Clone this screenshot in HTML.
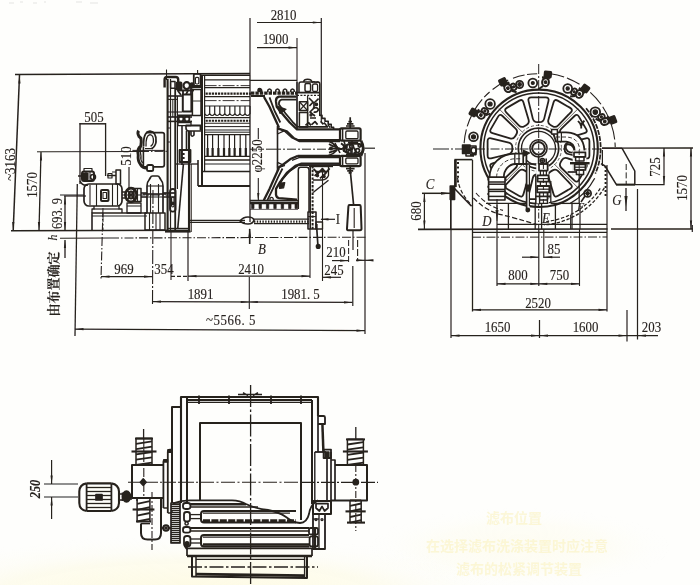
<!DOCTYPE html>
<html><head><meta charset="utf-8"><title>drawing</title>
<style>
html,body{margin:0;padding:0;background:#fefefc;}
body{width:700px;height:585px;overflow:hidden;position:relative;}
svg{position:absolute;left:0;top:0;display:block;}
svg *{vector-effect:none;}
.g{fill:none;stroke:#26211e;stroke-width:1;stroke-linecap:butt;stroke-linejoin:round;}
.t{font-family:'Liberation Serif',serif;fill:#26211e;stroke:#26211e;stroke-width:0.12;text-anchor:middle;}
.a{fill:#26211e;stroke:none;}
</style></head><body>
<svg width="700" height="585" viewBox="0 0 700 585">
<defs>
<filter id="sc" x="0" y="0" width="100%" height="100%" filterUnits="userSpaceOnUse"><feGaussianBlur stdDeviation="0.38"/></filter>
<linearGradient id="bt" x1="0" y1="0" x2="0" y2="1"><stop offset="0" stop-color="#fbf6dc" stop-opacity="0"/><stop offset="1" stop-color="#fbf6dc" stop-opacity="0.6"/></linearGradient>
<radialGradient id="yl" cx="0.5" cy="0.5" r="0.5"><stop offset="0" stop-color="#fdf8d8" stop-opacity="0.95"/><stop offset="0.6" stop-color="#fdfadf" stop-opacity="0.6"/><stop offset="1" stop-color="#fefefc" stop-opacity="0"/></radialGradient>
</defs>
<g class="g" filter="url(#sc)">
<ellipse cx="520" cy="548" rx="150" ry="40" fill="url(#yl)" stroke="none" opacity="0.3"/>
<ellipse cx="190" cy="598" rx="330" ry="62" fill="url(#yl)" stroke="none" opacity="0.8"/>
<g fill="#f9f0b6" stroke="none" opacity="0.5" font-family="'Liberation Sans','Noto Sans CJK SC',sans-serif" font-size="14" font-weight="bold"><text x="486" y="523">滤布位置</text><text x="426" y="551">在选择滤布洗涤装置时应注意</text><text x="456" y="574">滤布的松紧调节装置</text></g>
<g stroke="#dcdcd8" stroke-width="1.2" opacity="0.7"><path d="M9 3h5M20 2h3M33 3h4M44 2h2M76 2h6M90 3h8"/></g>
<!-- side view dimensions -->
<line x1="15" y1="74.6" x2="250" y2="73.4" stroke-width="1.5"/>
<line x1="19.5" y1="75" x2="13.2" y2="230.5" stroke-width="1.5"/>
<polygon class="a" points="19.5,75 20.6,83.5 18.4,83.5"/>
<polygon class="a" points="13.2,230.5 12.1,222 14.3,222"/>
<text class="t" transform="translate(10 164.5) rotate(-90) scale(0.9 1)" x="0" y="4.7" font-size="14.3">~3163</text>
<line x1="11" y1="230.8" x2="189" y2="230.3" stroke-width="1.6"/>
<line x1="37" y1="151.8" x2="140" y2="151.5" stroke-width="1"/>
<line x1="140" y1="151.5" x2="168" y2="151.3" stroke-width="1" stroke-dasharray="9 2 1.5 2"/>
<line x1="41" y1="152" x2="39" y2="230.5" stroke-width="1.3"/>
<polygon class="a" points="41,152 42.1,160.5 39.9,160.5"/>
<polygon class="a" points="39,230.5 37.9,222 40.1,222"/>
<text class="t" transform="translate(32 185) rotate(-90) scale(0.9 1)" x="0" y="4.7" font-size="14.3">1570</text>
<line x1="80" y1="123" x2="80" y2="184" stroke-width="1.3"/>
<line x1="105.6" y1="123" x2="105.6" y2="176" stroke-width="1.3"/>
<line x1="79.5" y1="123.8" x2="106" y2="123.8" stroke-width="1.5"/>
<text class="t" transform="translate(94 117.5) scale(0.9 1)" x="0" y="4.7" font-size="14.3">505</text>
<text class="t" transform="translate(126.5 156) rotate(-90) scale(0.9 1)" x="0" y="4.7" font-size="14.3">510</text>
<line x1="64" y1="196" x2="86" y2="196" stroke-width="1.2"/>
<line x1="65" y1="196" x2="65" y2="230.5" stroke-width="1.3"/>
<polygon class="a" points="65,196 66.1,204.5 63.9,204.5"/>
<polygon class="a" points="65,230.5 63.9,222 66.1,222"/>
<text class="t" transform="translate(57.5 213.5) rotate(-90) scale(0.9 1)" x="0" y="4.5" font-size="13.8">693. 9</text>
<text class="t" transform="translate(52.5 237.5) rotate(-90) scale(0.9 1)" x="0" y="4.4" font-size="13.2" font-style="italic">h</text>
<line x1="60" y1="238.2" x2="110" y2="238" stroke-width="1.1"/>
<line x1="110" y1="238" x2="366" y2="237.2" stroke-width="1.1" stroke-dasharray="9 2 1.5 2"/>
<line x1="65" y1="240" x2="65" y2="258" stroke-width="1.3"/>
<polygon class="a" points="65,239.5 66.1,248 63.9,248"/>
<text class="t" transform="translate(54 284) rotate(-90)" x="0" y="4.3" font-size="13" font-weight="bold" style="font-family:'Liberation Serif','Noto Serif CJK SC',serif">由布置确定</text>
<line x1="77.3" y1="184" x2="75" y2="336" stroke-width="1.3"/>
<line x1="103" y1="208" x2="101" y2="279" stroke-width="1.1" stroke-dasharray="9 2 1.5 2"/>
<line x1="101" y1="276.6" x2="152.5" y2="276.6" stroke-width="1.2"/>
<polygon class="a" points="101,276.6 109.5,275.5 109.5,277.7"/>
<polygon class="a" points="152.5,276.6 144,277.7 144,275.5"/>
<text class="t" transform="translate(124 269) scale(0.9 1)" x="0" y="4.7" font-size="14.3">969</text>
<line x1="153" y1="190" x2="152.5" y2="304" stroke-width="1.1" stroke-dasharray="14 2 2 2"/>
<line x1="171" y1="231" x2="171" y2="280" stroke-width="1.1"/>
<line x1="188" y1="231" x2="188" y2="281" stroke-width="1.2"/>
<text class="t" transform="translate(164 269) scale(0.9 1)" x="0" y="4.7" font-size="14.3">354</text>
<line x1="171" y1="276.4" x2="188" y2="276.4" stroke-width="1.1" stroke-dasharray="4 2"/>
<line x1="188" y1="276.2" x2="310" y2="276.2" stroke-width="1.2"/>
<polygon class="a" points="188,276.2 196.5,275.1 196.5,277.3"/>
<polygon class="a" points="310,276.2 301.5,277.3 301.5,275.1"/>
<text class="t" transform="translate(251 269.5) scale(0.9 1)" x="0" y="4.7" font-size="14.3">2410</text>
<line x1="310" y1="229" x2="310" y2="278" stroke-width="1.1"/>
<line x1="249.3" y1="277" x2="249.3" y2="309" stroke-width="1.1"/>
<line x1="152.5" y1="301.6" x2="352.5" y2="302.4" stroke-width="1.2"/>
<polygon class="a" points="152.5,301.6 161,300.5 161,302.7"/>
<polygon class="a" points="249.3,302 240.8,303.1 240.8,300.9"/>
<polygon class="a" points="249.3,302 257.8,300.9 257.8,303.1"/>
<polygon class="a" points="352.5,302.4 344,303.5 344,301.3"/>
<text class="t" transform="translate(200.5 294) scale(0.9 1)" x="0" y="4.7" font-size="14.3">1891</text>
<text class="t" transform="translate(300.5 294.5) scale(0.9 1)" x="0" y="4.7" font-size="14.3">1981. 5</text>
<line x1="352.8" y1="266" x2="352.8" y2="306" stroke-width="1.2"/>
<line x1="75" y1="329.2" x2="365" y2="330.6" stroke-width="1.3"/>
<polygon class="a" points="75,329.2 83.5,328.1 83.5,330.3"/>
<polygon class="a" points="365,330.6 356.5,331.7 356.5,329.5"/>
<text class="t" transform="translate(231 320.5) scale(0.9 1)" x="0" y="4.7" font-size="14.3" letter-spacing="0.6">~5566. 5</text>
<line x1="365" y1="153" x2="365" y2="334" stroke-width="1.2"/>
<line x1="322.5" y1="170" x2="322.5" y2="281" stroke-width="1.1"/>
<line x1="348.6" y1="240" x2="348.6" y2="263" stroke-width="1" stroke-dasharray="6 2"/>
<line x1="353" y1="230.4" x2="353" y2="250" stroke-width="1.2"/>
<line x1="357.6" y1="240" x2="357.6" y2="260" stroke-width="1.1" stroke-dasharray="7 2"/>
<line x1="332" y1="260.6" x2="348.6" y2="260.6" stroke-width="1.2"/>
<polygon class="a" points="348.6,260.6 340.1,261.7 340.1,259.5"/>
<text class="t" transform="translate(336 252) scale(0.9 1)" x="0" y="4.7" font-size="14.3">210</text>
<text class="t" transform="translate(334 270) scale(0.9 1)" x="0" y="4.7" font-size="14.3">245</text>
<line x1="322.5" y1="277.3" x2="341" y2="277.3" stroke-width="1.2"/>
<polygon class="a" points="322.5,277.3 331,276.2 331,278.4"/>
<line x1="356" y1="260.3" x2="373" y2="260.3" stroke-width="1.2"/>
<polygon class="a" points="365,260.3 356.5,261.4 356.5,259.2"/>
<polygon class="a" points="365,260.3 373.5,259.2 373.5,261.4"/>
<line x1="250" y1="18" x2="250" y2="75" stroke-width="1.2"/>
<line x1="321.3" y1="18" x2="321.3" y2="122" stroke-width="1.2"/>
<line x1="297" y1="38" x2="297" y2="82" stroke-width="1.1"/>
<line x1="257" y1="22.5" x2="321.3" y2="22.5" stroke-width="1.2"/>
<polygon class="a" points="321.3,22.5 312.8,23.6 312.8,21.4"/>
<text class="t" transform="translate(283.5 15) scale(0.9 1)" x="0" y="4.7" font-size="14.3">2810</text>
<line x1="257" y1="47.6" x2="297" y2="47.6" stroke-width="1.2"/>
<polygon class="a" points="297,47.6 288.5,48.7 288.5,46.5"/>
<text class="t" transform="translate(275.5 39) scale(0.9 1)" x="0" y="4.7" font-size="14.3">1900</text>
<line x1="258.3" y1="128" x2="258.3" y2="139" stroke-width="1.1"/>
<text class="t" transform="translate(257.5 156) rotate(-90) scale(0.9 1)" x="0" y="4.7" font-size="14.3">φ2250</text>
<line x1="258.3" y1="178" x2="258.3" y2="201" stroke-width="1.1"/>
<polygon class="a" points="258.3,201.5 257.2,193 259.4,193"/>
<text class="t" transform="translate(262 249) scale(0.9 1)" x="0" y="4.7" font-size="14.3" font-style="italic">B</text>
<line x1="249.7" y1="229" x2="249.7" y2="244" stroke-width="1.6"/>
<polygon class="a" points="249.7,228 251.2,238 248.2,238"/>
<text class="t" transform="translate(338 219) scale(0.9 1)" x="0" y="4.7" font-size="14.3">I</text>
<line x1="321" y1="219.3" x2="335" y2="219.3" stroke-width="1.2"/>
<polygon class="a" points="320,219.3 328.5,218.2 328.5,220.4"/>
<!-- end view dimensions -->
<line x1="418" y1="229.3" x2="607.5" y2="229" stroke-width="1.7"/>
<line x1="611" y1="229" x2="693" y2="229" stroke-width="1.6"/>
<line x1="692.3" y1="225" x2="692.3" y2="232" stroke-width="1.2"/>
<line x1="472" y1="237.2" x2="607" y2="237" stroke-width="1" stroke-dasharray="9 2 1.5 2"/>
<text class="t" transform="translate(430 184) scale(0.9 1)" x="0" y="4.7" font-size="14.3" font-style="italic">C</text>
<line x1="422" y1="193.3" x2="450" y2="193.3" stroke-width="1.5"/>
<polygon class="a" points="450,193.3 441,194.7 441,191.9"/>
<line x1="424.4" y1="193.5" x2="424.4" y2="229" stroke-width="1.2"/>
<polygon class="a" points="424.4,193.5 425.5,202 423.3,202"/>
<polygon class="a" points="424.4,229 423.3,220.5 425.5,220.5"/>
<text class="t" transform="translate(416 211) rotate(-90) scale(0.9 1)" x="0" y="4.7" font-size="14.3">680</text>
<text class="t" transform="translate(487 221) scale(0.9 1)" x="0" y="4.7" font-size="14.3" font-style="italic">D</text>
<line x1="497" y1="205" x2="497" y2="221" stroke-width="1.5"/>
<polygon class="a" points="497,220 495.5,210 498.5,210"/>
<text class="t" transform="translate(546 218) scale(0.9 1)" x="0" y="4.7" font-size="14.3" font-style="italic">E</text>
<text class="t" transform="translate(580.5 206.5) scale(0.9 1)" x="0" y="4.4" font-size="13.2" font-style="italic">F</text>
<text class="t" transform="translate(617 200) scale(0.9 1)" x="0" y="4.7" font-size="14.3" font-style="italic">G</text>
<line x1="626" y1="188" x2="626" y2="211" stroke-width="1.3"/>
<polygon class="a" points="626,207 624.4,196 627.6,196"/>
<line x1="602" y1="148.2" x2="693" y2="148" stroke-width="1.3"/>
<line x1="664" y1="148" x2="664" y2="184.6" stroke-width="1.2"/>
<polygon class="a" points="664,148 665.1,156.5 662.9,156.5"/>
<polygon class="a" points="664,184.6 662.9,176.1 665.1,176.1"/>
<line x1="616" y1="184.6" x2="664.5" y2="184.6" stroke-width="1.2"/>
<text class="t" transform="translate(655.5 167) rotate(-90) scale(0.9 1)" x="0" y="4.7" font-size="14.3">725</text>
<line x1="691" y1="148" x2="691" y2="229" stroke-width="1.3"/>
<polygon class="a" points="691,148 692.1,156.5 689.9,156.5"/>
<polygon class="a" points="691,229 689.9,220.5 692.1,220.5"/>
<text class="t" transform="translate(682 188) rotate(-90) scale(0.9 1)" x="0" y="4.7" font-size="14.3">1570</text>
<line x1="451" y1="200" x2="451" y2="338" stroke-width="1.2"/>
<line x1="472.5" y1="160" x2="472.5" y2="311.5" stroke-width="1.3"/>
<line x1="497" y1="221" x2="497" y2="286" stroke-width="1.2"/>
<line x1="538.8" y1="229" x2="538.8" y2="286" stroke-width="1.2"/>
<line x1="543.8" y1="229" x2="543.8" y2="258" stroke-width="1.1"/>
<line x1="579.5" y1="229" x2="579.5" y2="286" stroke-width="1.1"/>
<line x1="607" y1="165" x2="607" y2="311.5" stroke-width="1.2"/>
<line x1="637.5" y1="189" x2="637.5" y2="339.5" stroke-width="1.2"/>
<line x1="627" y1="310" x2="627" y2="341.5" stroke-width="1.2"/>
<line x1="522" y1="257.2" x2="538.8" y2="257.2" stroke-width="1.2"/>
<polygon class="a" points="538.8,257.2 530.3,258.3 530.3,256.1"/>
<line x1="543.8" y1="257.2" x2="560" y2="257.2" stroke-width="1.2"/>
<polygon class="a" points="543.8,257.2 552.3,256.1 552.3,258.3"/>
<text class="t" transform="translate(554 249.5) scale(0.9 1)" x="0" y="4.7" font-size="14.3">85</text>
<line x1="497" y1="283.8" x2="579.5" y2="283.8" stroke-width="1.2"/>
<polygon class="a" points="497,283.8 505.5,282.7 505.5,284.9"/>
<polygon class="a" points="538.8,283.8 530.3,284.9 530.3,282.7"/>
<polygon class="a" points="538.8,283.8 547.3,282.7 547.3,284.9"/>
<polygon class="a" points="579.5,283.8 571,284.9 571,282.7"/>
<text class="t" transform="translate(518 275) scale(0.9 1)" x="0" y="4.7" font-size="14.3">800</text>
<text class="t" transform="translate(559.5 275) scale(0.9 1)" x="0" y="4.7" font-size="14.3">750</text>
<line x1="472.5" y1="309.8" x2="607" y2="309.8" stroke-width="1.2"/>
<polygon class="a" points="472.5,309.8 481,308.7 481,310.9"/>
<polygon class="a" points="607,309.8 598.5,310.9 598.5,308.7"/>
<text class="t" transform="translate(538 303) scale(0.9 1)" x="0" y="4.7" font-size="14.3">2520</text>
<line x1="451" y1="335.6" x2="658" y2="335.6" stroke-width="1.2"/>
<polygon class="a" points="451,335.6 459.5,334.5 459.5,336.7"/>
<polygon class="a" points="539.5,335.6 531,336.7 531,334.5"/>
<polygon class="a" points="539.5,335.6 548,334.5 548,336.7"/>
<polygon class="a" points="627,335.6 618.5,336.7 618.5,334.5"/>
<polygon class="a" points="637.5,335.6 646,334.5 646,336.7"/>
<line x1="539.5" y1="320" x2="539.5" y2="338" stroke-width="1.2"/>
<text class="t" transform="translate(497.5 327.5) scale(0.9 1)" x="0" y="4.7" font-size="14.3">1650</text>
<text class="t" transform="translate(585.5 327.5) scale(0.9 1)" x="0" y="4.7" font-size="14.3">1600</text>
<text class="t" transform="translate(651.5 327.5) scale(0.9 1)" x="0" y="4.7" font-size="14.3">203</text>
<!-- plan view dimension -->
<line x1="51.6" y1="460" x2="51.6" y2="484" stroke-width="1.2"/>
<polygon class="a" points="51.6,484 50.5,475.5 52.7,475.5"/>
<line x1="51.6" y1="497" x2="51.6" y2="519" stroke-width="1.2"/>
<polygon class="a" points="51.6,497 52.7,505.5 50.5,505.5"/>
<line x1="44" y1="484" x2="78" y2="484" stroke-width="1.1"/>
<line x1="44" y1="497" x2="78" y2="497" stroke-width="1.1"/>
<text class="t" transform="translate(35 489) rotate(-90) scale(0.9 1)" x="0" y="4.5" font-size="13.8" font-style="italic" font-weight="bold">250</text>
<!-- motor / gearbox group -->
<line x1="129" y1="167" x2="129" y2="188.6" stroke-width="1.2"/>
<rect x="82" y="171.5" width="12" height="9.5" rx="2" stroke-width="2"/>
<rect x="83.4" y="173" width="4.6" height="6.6" stroke-width="1.2" fill="#26211e"/>
<line x1="86" y1="171.5" x2="86" y2="181" stroke-width="1"/>
<line x1="90" y1="171.5" x2="90" y2="181" stroke-width="1"/>
<rect x="84" y="168.5" width="8" height="3" stroke-width="1.2"/>
<line x1="78" y1="176" x2="84" y2="176" stroke-width="1.5"/>
<circle cx="93" cy="177" r="2.5" stroke-width="1.5"/>
<path d="M80 181 Q82 186 88 185" stroke-width="1.6"/>
<rect x="116" y="170" width="4.5" height="14" stroke-width="1.5"/>
<line x1="107" y1="175.5" x2="116" y2="175.5" stroke-width="1.5"/>
<rect x="108" y="173.5" width="4" height="4.5" stroke-width="1.2"/>
<line x1="112" y1="172" x2="116" y2="172" stroke-width="1"/>
<rect x="84" y="184" width="38" height="22" rx="5" stroke-width="1.7"/>
<line x1="90" y1="185" x2="90" y2="205" stroke-width="1.1"/>
<line x1="96.5" y1="184" x2="96.5" y2="206" stroke-width="1.1"/>
<line x1="112.5" y1="184" x2="112.5" y2="206" stroke-width="1.1"/>
<line x1="117.5" y1="185" x2="117.5" y2="205" stroke-width="1.1"/>
<rect x="101" y="190" width="7.5" height="11" rx="1" stroke-width="2"/>
<rect x="103" y="192.5" width="3.5" height="6" stroke-width="1.1"/>
<line x1="60" y1="195" x2="84" y2="195" stroke-width="1"/>
<line x1="122" y1="195" x2="170" y2="195" stroke-width="1" stroke-dasharray="9 2 1.5 2"/>
<polyline points="94,206 94,209 92,209 92,213" stroke-width="1.3"/>
<polyline points="119,206 119,209 122,209 122,213" stroke-width="1.3"/>
<line x1="94" y1="209" x2="119" y2="209" stroke-width="1.2"/>
<ellipse cx="131" cy="195" rx="5.6" ry="6.8" stroke-width="2.7"/>
<ellipse cx="131" cy="195" rx="2.2" ry="3.6" stroke-width="2"/>
<path d="M127 190L135 200 M127 200L135 190" stroke-width="1.5"/>
<line x1="122" y1="192" x2="126" y2="192" stroke-width="1.5"/>
<line x1="122" y1="198" x2="126" y2="198" stroke-width="1.5"/>
<rect x="134" y="188.5" width="7" height="13" stroke-width="1.5"/>
<line x1="137.5" y1="188.5" x2="137.5" y2="201.5" stroke-width="1.1"/>
<line x1="141" y1="193" x2="147" y2="193" stroke-width="1.6"/>
<line x1="141" y1="197" x2="147" y2="197" stroke-width="1.6"/>
<rect x="127" y="203" width="14" height="10" stroke-width="1.3"/>
<line x1="127" y1="206" x2="141" y2="206" stroke-width="1"/>
<polyline points="92,230 92,213 147,213" stroke-width="1.6"/>
<line x1="103" y1="213" x2="103" y2="230" stroke-width="1" stroke-dasharray="9 2 1.5 2"/>
<line x1="92" y1="216" x2="147" y2="216" stroke-width="1"/>
<path d="M147 213V186Q147 182 149 180L150.5 177.5Q151 176 152.5 176H157.5Q159 176 159.5 177.5L161 180Q163 182 163 186V213" stroke-width="1.7"/>
<line x1="150.5" y1="184" x2="150.5" y2="213" stroke-width="1.1"/>
<line x1="158.5" y1="184" x2="158.5" y2="213" stroke-width="1.1"/>
<line x1="147" y1="186" x2="163" y2="186" stroke-width="1.1"/>
<line x1="143" y1="194" x2="166" y2="194" stroke-width="1.6"/>
<line x1="147" y1="197" x2="163" y2="197" stroke-width="1"/>
<rect x="145" y="213" width="20" height="17" stroke-width="1.5"/>
<line x1="149.5" y1="213" x2="149.5" y2="230" stroke-width="1.1"/>
<line x1="156" y1="213" x2="156" y2="230" stroke-width="1.1"/>
<line x1="160" y1="213" x2="160" y2="230" stroke-width="1.1"/>
<line x1="163" y1="193" x2="176" y2="193" stroke-width="1.7"/>
<line x1="163" y1="197" x2="176" y2="197" stroke-width="1.5"/>
<path d="M146 132.6H162.2Q164.3 132.6 164.3 134.6V164.8Q164.3 166.9 162.2 166.9H153.4" stroke-width="1.7"/>
<path d="M143.4 146.6V166.9H147" stroke-width="1.6"/>
<path d="M143.6 146.4Q143 132 150 131.2Q156.6 131.6 156 142Q155.4 146.6 151.6 148.6" stroke-width="1.8"/>
<path d="M146 146.4Q145.6 135.4 150 134.6Q153.8 135 153.4 142Q153 145 150.6 146.4" stroke-width="1.3"/>
<line x1="145" y1="148.6" x2="153" y2="148.6" stroke-width="1.2"/>
<path d="M138.6 130.6Q137 133 139 136.4L141 138.4Q141.6 142 140.8 146Q136.8 149 138.2 155Q137.6 161 140.4 164.4Q143 168.4 147 168" stroke-width="2.9"/>
<path d="M141 146Q139.4 151 141 156Q140.2 160 142.6 163" stroke-width="1.3"/>
<rect x="147" y="165" width="6.2" height="6" rx="1.6" stroke-width="1.8"/>
<line x1="132.4" y1="150.4" x2="164.3" y2="150.4" stroke-width="1"/>
<!-- main frame -->
<path d="M164.6 87.4V79.6Q164.6 77 167.2 77H175.6Q178.2 77 178.2 79.6V84" stroke-width="2.4"/>
<line x1="166.5" y1="69.5" x2="166.5" y2="80" stroke-width="1.1"/>
<line x1="167.6" y1="79" x2="167.6" y2="232" stroke-width="2.1"/>
<line x1="170.5" y1="79" x2="170.5" y2="232" stroke-width="1.2"/>
<line x1="175.2" y1="88" x2="175.2" y2="232" stroke-width="1.8"/>
<line x1="177.4" y1="96" x2="177.4" y2="189" stroke-width="1.2"/>
<rect x="170.6" y="81.6" width="4.4" height="6.6" stroke-width="1.5"/>
<line x1="167.6" y1="96" x2="182" y2="96" stroke-width="1.6"/>
<line x1="167.6" y1="99.4" x2="178" y2="99.4" stroke-width="1.1"/>
<line x1="167.6" y1="112" x2="182" y2="112" stroke-width="1.1"/>
<line x1="167.6" y1="117" x2="192" y2="117" stroke-width="1.6"/>
<line x1="167.6" y1="121.4" x2="192" y2="121.4" stroke-width="1.6"/>
<line x1="167.6" y1="128" x2="170.5" y2="128" stroke-width="1"/>
<line x1="167.6" y1="142" x2="170.5" y2="142" stroke-width="1"/>
<line x1="172.8" y1="99" x2="172.8" y2="117" stroke-width="1"/>
<rect x="176.4" y="82.4" width="5.2" height="7.2" rx="1" stroke-width="1.7" fill="#26211e"/>
<ellipse cx="186.7" cy="85.6" rx="3.2" ry="3.5" stroke-width="2.1"/>
<ellipse cx="192" cy="85.4" rx="1.8" ry="2.2" stroke-width="1.7" fill="#26211e"/>
<line x1="189.6" y1="86.6" x2="201" y2="86.6" stroke-width="2.9"/>
<line x1="177" y1="90.4" x2="194" y2="90.4" stroke-width="2"/>
<path d="M178 91L181 95 M183 90.4V94.6 M188 90.4L186 94.6 M191 88V94.6" stroke-width="1.8"/>
<rect x="193.8" y="73.8" width="6.8" height="12.2" rx="1" stroke-width="1.8"/>
<rect x="195.4" y="77.4" width="3.4" height="6.6" rx="1.2" stroke-width="1.2"/>
<line x1="197.6" y1="70" x2="197.6" y2="74" stroke-width="1.1"/>
<rect x="182.8" y="94.6" width="8.6" height="17" stroke-width="2"/>
<rect x="192.4" y="89.6" width="8.6" height="26" stroke-width="1.5"/>
<line x1="192.4" y1="101" x2="201" y2="101" stroke-width="0.9" stroke-dasharray="9 2 1.5 2"/>
<ellipse cx="181" cy="118.8" rx="2.4" ry="2.8" stroke-width="1.8"/>
<ellipse cx="187" cy="118.8" rx="2.4" ry="2.8" stroke-width="1.8"/>
<path d="M177.4 115.4H192 M178 122.4H191" stroke-width="1.8"/>
<rect x="178" y="122" width="13" height="3.6" stroke-width="1.3"/>
<path d="M182 125.6V165 M186 125.6V128Q186 131 189 131H201 M186.5 131V150 M191 131V135Q192 137.4 194 135V131" stroke-width="1.6"/>
<path d="M185.6 125.6H200.6V130.6" stroke-width="2"/>
<rect x="179.6" y="150" width="10.8" height="12" stroke-width="2"/>
<path d="M181.4 154H184.6 M181.4 158H184.6 M181.6 150V162" stroke-width="1.8"/>
<line x1="183.4" y1="164" x2="177.8" y2="228" stroke-width="1.6"/>
<line x1="176" y1="164" x2="198" y2="164" stroke-width="1.3"/>
<line x1="189" y1="131" x2="189" y2="232" stroke-width="2.1"/>
<line x1="191.2" y1="164" x2="191.2" y2="232" stroke-width="1.1"/>
<line x1="198" y1="160" x2="198" y2="186" stroke-width="1.6"/>
<rect x="170" y="189" width="5.6" height="22.6" rx="2.6" stroke-width="1.8"/>
<rect x="171.6" y="197" width="2.4" height="10" rx="1.2" stroke-width="1.2"/>
<circle cx="172.8" cy="203.4" r="1.2" stroke-width="1.2" fill="#26211e"/>
<line x1="167.6" y1="228.4" x2="189" y2="228.4" stroke-width="1.2"/>
<line x1="165" y1="231.6" x2="190.6" y2="231.6" stroke-width="2"/>
<!-- drum -->
<line x1="202" y1="76" x2="202" y2="186" stroke-width="2"/>
<line x1="204.6" y1="76" x2="204.6" y2="172" stroke-width="1.2"/>
<line x1="201" y1="75.2" x2="250" y2="75.2" stroke-width="1.5"/>
<line x1="204.6" y1="79.8" x2="250" y2="79.8" stroke-width="1.2"/>
<line x1="204.6" y1="85.6" x2="250" y2="85.6" stroke-width="0.9" stroke-dasharray="12 2 2 2"/>
<line x1="204.6" y1="87.6" x2="250" y2="87.6" stroke-width="1.1"/>
<line x1="205.6" y1="93.6" x2="251" y2="93.6" stroke-width="2.1" stroke-dasharray="2.2 0.9"/>
<line x1="204.6" y1="96.6" x2="250" y2="96.6" stroke-width="1.1"/>
<line x1="204.6" y1="100.6" x2="250" y2="100.6" stroke-width="0.9" stroke-dasharray="12 2 2 2"/>
<line x1="204.6" y1="106" x2="250" y2="106" stroke-width="1.1"/>
<path d="M204.6 106V113.6Q207.1 117.4 209.7 113.6M209.7 106V113.6Q212.2 117.4 214.7 113.6M214.7 106V113.6Q217.2 117.4 219.8 113.6M219.8 106V113.6Q222.3 117.4 224.8 113.6M224.8 106V113.6Q227.3 117.4 229.8 113.6M229.8 106V113.6Q232.4 117.4 234.9 113.6M234.9 106V113.6Q237.4 117.4 239.9 113.6M239.9 106V113.6Q242.5 117.4 245 113.6M245 106V113.6Q247.5 117.4 250 113.6M250 106V114" stroke-width="1.2"/>
<line x1="204.6" y1="117.6" x2="250" y2="117.6" stroke-width="1.1"/>
<line x1="205.6" y1="120.8" x2="250" y2="120.8" stroke-width="2" stroke-dasharray="2.2 0.9"/>
<line x1="204.6" y1="123.2" x2="250" y2="123.2" stroke-width="1.1"/>
<line x1="204.6" y1="126.6" x2="250" y2="126.6" stroke-width="1"/>
<line x1="204.6" y1="130" x2="250" y2="130" stroke-width="1.2"/>
<line x1="204.6" y1="132.2" x2="250" y2="132.2" stroke-width="1"/>
<line x1="204.6" y1="134.6" x2="250" y2="134.6" stroke-width="1.1"/>
<line x1="207.6" y1="134.6" x2="207.6" y2="156.4" stroke-width="1.2"/>
<line x1="207.6" y1="148" x2="207.6" y2="156.4" stroke-width="2.2"/>
<line x1="212.6" y1="134.6" x2="212.6" y2="156.4" stroke-width="1.2"/>
<line x1="212.6" y1="148" x2="212.6" y2="156.4" stroke-width="2.2"/>
<line x1="218.4" y1="134.6" x2="218.4" y2="156.4" stroke-width="1.2"/>
<line x1="218.4" y1="148" x2="218.4" y2="156.4" stroke-width="2.2"/>
<line x1="224" y1="134.6" x2="224" y2="156.4" stroke-width="1.2"/>
<line x1="224" y1="148" x2="224" y2="156.4" stroke-width="2.2"/>
<line x1="229.4" y1="134.6" x2="229.4" y2="156.4" stroke-width="1.2"/>
<line x1="229.4" y1="148" x2="229.4" y2="156.4" stroke-width="2.2"/>
<line x1="234.6" y1="134.6" x2="234.6" y2="156.4" stroke-width="1.2"/>
<line x1="234.6" y1="148" x2="234.6" y2="156.4" stroke-width="2.2"/>
<line x1="240.2" y1="134.6" x2="240.2" y2="156.4" stroke-width="1.2"/>
<line x1="240.2" y1="148" x2="240.2" y2="156.4" stroke-width="2.2"/>
<line x1="245.8" y1="134.6" x2="245.8" y2="156.4" stroke-width="1.2"/>
<line x1="245.8" y1="148" x2="245.8" y2="156.4" stroke-width="2.2"/>
<line x1="204.6" y1="156.4" x2="250" y2="156.4" stroke-width="1.1"/>
<line x1="204.6" y1="160" x2="250" y2="160" stroke-width="1.3"/>
<line x1="204.6" y1="164" x2="250" y2="164" stroke-width="1.1"/>
<line x1="202" y1="171.4" x2="250" y2="171.4" stroke-width="1.5"/>
<line x1="198" y1="186" x2="250" y2="186" stroke-width="2"/>
<line x1="250" y1="75" x2="250" y2="222" stroke-width="1.3"/>
<line x1="189" y1="220.3" x2="245" y2="220.3" stroke-width="1.3"/>
<line x1="189" y1="222.4" x2="245" y2="222.4" stroke-width="1.2"/>
<path d="M240 221Q243 217 248 217Q253 217 254 220Q253 224 248 224Q243 224 240 221Z" stroke-width="1.6"/>
<line x1="254" y1="219.2" x2="309" y2="219.2" stroke-width="1.3"/>
<line x1="254" y1="221.6" x2="309" y2="221.6" stroke-width="2.4" stroke-dasharray="1.4 1.4"/>
<line x1="254" y1="223.6" x2="309" y2="223.6" stroke-width="1.1"/>
<!-- cone / hub -->
<line x1="250" y1="80.4" x2="297" y2="80.4" stroke-width="1.3"/>
<line x1="251" y1="93.2" x2="297" y2="93.2" stroke-width="3.2" stroke-dasharray="3.4 1"/>
<line x1="251" y1="96" x2="265" y2="96" stroke-width="2"/>
<path d="M258.3 92V90.2Q260 87.6 261.7 90.2V92" stroke-width="1.5"/>
<path d="M267.8 92V90.2Q269.5 87.6 271.2 90.2V92" stroke-width="1.5"/>
<path d="M275.8 92V90.2Q277.5 87.6 279.2 90.2V92" stroke-width="1.5"/>
<path d="M283.3 92V90.2Q285 87.6 286.7 90.2V92" stroke-width="1.5"/>
<path d="M290.8 92V90.2Q292.5 87.6 294.2 90.2V92" stroke-width="1.5"/>
<circle cx="259.6" cy="90" r="1.7" stroke-width="1.2" fill="#26211e"/>
<path d="M264 97L269.5 106.7L276.7 122.5L279 127.6" stroke-width="2.3"/>
<path d="M269.5 97.4L274.6 111L280.3 122.5" stroke-width="1.8"/>
<path d="M296.5 96.7H279Q275.6 97.6 276 101.7L276.7 106.7L282.5 114L289.7 122.5L297 129.4H340" stroke-width="2.3"/>
<path d="M296.5 99.6H281.5Q278.6 100.4 279 104.6L285.4 113.2L292.5 121.8L297.6 126.9H328" stroke-width="1.8"/>
<polygon points="277.5,106.4 286,109.2 280,113.4" stroke-width="1.2" fill="#26211e"/>
<path d="M277.5 128.3L286.8 131.4L294 138.3L299.7 141.2H340" stroke-width="2.3"/>
<path d="M284 130.8L292 138L298 139.5H340" stroke-width="1.2"/>
<polygon points="277.5,128.3 284.5,130.6 277.5,134" stroke-width="1.2"/>
<line x1="277.5" y1="126" x2="277.5" y2="171" stroke-width="1.6"/>
<line x1="250" y1="149.2" x2="272" y2="149.2" stroke-width="1" stroke-dasharray="6 2"/>
<line x1="272" y1="149.2" x2="330" y2="149.2" stroke-width="1" stroke-dasharray="9 2 2 2"/>
<line x1="365" y1="148.2" x2="375" y2="148.2" stroke-width="1.2"/>
<path d="M279 168L274.6 177.4L269.5 188.9L263.8 200.3" stroke-width="2.3"/>
<path d="M282.5 168.5L278 177.4L272.8 188.9L267.3 200.3" stroke-width="1.8"/>
<path d="M298 155.8H340 M298 155.8L291 158.7L282.5 165L277.5 168" stroke-width="2.3"/>
<path d="M340 157.6H299L292 160.4" stroke-width="1.2"/>
<path d="M340 163.7H301L295.4 165.9L286.8 173L280.3 181.7L276 188.9V194.6Q276.4 197.8 279 198.2L297 199.6" stroke-width="2.3"/>
<path d="M340 165.2H298.3L289.7 171L282.5 178.8L279.6 184.5" stroke-width="1.8"/>
<polygon points="279,183.4 284.8,182.6 283.6,187.8 279.6,188.4" stroke-width="1.2" fill="#26211e"/>
<polygon points="277.5,168 284.5,165.6 277.5,162.4" stroke-width="1.2"/>
<line x1="250" y1="200.4" x2="298" y2="200.4" stroke-width="1.3"/>
<line x1="250" y1="202.8" x2="298" y2="202.8" stroke-width="2.7"/>
<rect x="251.6" y="204" width="2.4" height="4.6" stroke-width="0.7" fill="#26211e"/>
<rect x="259" y="204" width="2.4" height="4.6" stroke-width="0.7" fill="#26211e"/>
<rect x="266.4" y="204" width="2.4" height="4.6" stroke-width="0.7" fill="#26211e"/>
<rect x="273.8" y="204" width="2.4" height="4.6" stroke-width="0.7" fill="#26211e"/>
<rect x="281.2" y="204" width="2.4" height="4.6" stroke-width="0.7" fill="#26211e"/>
<rect x="288.6" y="204" width="2.4" height="4.6" stroke-width="0.7" fill="#26211e"/>
<rect x="295" y="204" width="2.4" height="4.6" stroke-width="0.7" fill="#26211e"/>
<line x1="250" y1="209.4" x2="298" y2="209.4" stroke-width="1" opacity="0.7"/>
<path d="M270 200.4V198.4Q271.6 196.4 273.2 198.4V200.4" stroke-width="1.2"/>
<line x1="297" y1="82" x2="297" y2="129.4" stroke-width="1.7"/>
<line x1="319.8" y1="84" x2="319.8" y2="116" stroke-width="1.6"/>
<path d="M299 92.4V84Q299 82 301 82H318Q319.8 82 319.8 84" stroke-width="1.5"/>
<path d="M303.4 82Q304 79.2 307.6 79.2Q311.4 79.2 312 82" stroke-width="1.6"/>
<path d="M312 83Q313.4 80.6 315.4 82.6 M316 83Q317.4 80.6 319 83" stroke-width="1.3"/>
<rect x="305" y="83.5" width="5.6" height="8" rx="1.5" stroke-width="1.5"/>
<rect x="312.6" y="84" width="5" height="7.5" rx="1.5" stroke-width="1.3"/>
<line x1="297" y1="92.6" x2="319.8" y2="92.6" stroke-width="1.8"/>
<line x1="297" y1="95.4" x2="319.8" y2="95.4" stroke-width="1.2" stroke-dasharray="2 1.4"/>
<rect x="299.4" y="101.7" width="8.2" height="8.9" stroke-width="1.5"/>
<line x1="299.4" y1="101.7" x2="307.6" y2="110.6" stroke-width="1.3"/>
<line x1="307.6" y1="101.7" x2="299.4" y2="110.6" stroke-width="1.3"/>
<rect x="299.4" y="112.4" width="8.2" height="14.5" stroke-width="1.5"/>
<line x1="307.6" y1="96" x2="307.6" y2="127" stroke-width="1.3"/>
<path d="M309 98L314 103L318.6 98.6 M309.4 106L313.6 101.6 M314 103V108L310 112L315 116" stroke-width="1.7"/>
<path d="M313 108.5Q316.5 106.5 318.5 109.5Q317 113 313.6 112 M310 118H316" stroke-width="1.7"/>
<circle cx="316.4" cy="104.4" r="1.2" stroke-width="1.2" fill="#26211e"/>
<circle cx="311" cy="115" r="1.1" stroke-width="1.2" fill="#26211e"/>
<path d="M305.5 125.4L308.6 122.6L311 125.4 M311.6 124.6L315 121.6L317.6 124.6" stroke-width="1.7"/>
<path d="M319.8 115.4H322V118.4H325V121.2H328.2V124.2H331.2V127.2H333.6V129.4" stroke-width="1.6"/>
<path d="M320.6 121.4L323.4 124.4 M324 122.4L326.8 126 M328 124.6L330 127.6" stroke-width="1.6"/>
<path d="M298.3 209V170Q298.3 167.3 300.6 167.3H306.6Q309 167.3 309 170V212" stroke-width="1.5"/>
<line x1="310.2" y1="165.2" x2="310.2" y2="229" stroke-width="1.6"/>
<line x1="312.6" y1="166" x2="312.6" y2="229" stroke-width="2" stroke-dasharray="2.4 1.4"/>
<line x1="309" y1="166.4" x2="333" y2="166.4" stroke-width="1.6"/>
<path d="M313.6 169L318 173.4L322.4 168.6L326 172.8L329.6 168.4" stroke-width="1.8"/>
<path d="M314.6 176L319 172 M320 178.4L326 173 M315 171.6H327" stroke-width="1.7"/>
<circle cx="317.4" cy="175.6" r="1.2" stroke-width="1.2" fill="#26211e"/>
<circle cx="324" cy="176.4" r="1.2" stroke-width="1.2" fill="#26211e"/>
<path d="M313 180H322Q327 179.4 328.5 175.4V166.4" stroke-width="1.3"/>
<line x1="313.2" y1="192.4" x2="328.5" y2="180.2" stroke-width="1.3"/>
<rect x="340" y="128.4" width="20.6" height="12.2" rx="1.6" stroke-width="2.2"/>
<rect x="345.8" y="131" width="12.2" height="7.6" rx="1.2" stroke-width="1.3"/>
<rect x="340" y="155.8" width="20.6" height="10.4" rx="1.6" stroke-width="2.2"/>
<rect x="345.8" y="158" width="12.2" height="5.8" rx="1.2" stroke-width="1.3"/>
<line x1="342.6" y1="129" x2="342.6" y2="140" stroke-width="1.5"/>
<line x1="342.6" y1="156.4" x2="342.6" y2="165.6" stroke-width="1.5"/>
<path d="M328 140.6Q333 142.6 335.6 146.2Q338 149.8 342.6 148.8Q346.6 143.6 354 143.4Q362.6 143.6 363.6 148.4Q363.4 154 356 154.6Q348 154.4 343 150" stroke-width="2.1"/>
<path d="M328 155.8Q333.6 154 336.6 150.4 M330 148.6H340 M335 143L340 153 M344 141L348 156 M352 141V156" stroke-width="1.6"/>
<circle cx="351.6" cy="146.6" r="1.9" stroke-width="1.7"/>
<circle cx="357.6" cy="150.6" r="1.9" stroke-width="1.7"/>
<circle cx="349.6" cy="152" r="1.6" stroke-width="1.6"/>
<circle cx="359.6" cy="145.6" r="1.5" stroke-width="1.6"/>
<circle cx="346" cy="147" r="1.3" stroke-width="1.2" fill="#26211e"/>
<circle cx="355" cy="153.4" r="1.2" stroke-width="1.2" fill="#26211e"/>
<circle cx="331" cy="148.4" r="1.4" stroke-width="1.2" fill="#26211e"/>
<path d="M361 140.6Q365.4 148 361 155.8" stroke-width="2.7"/>
<path d="M341 143.4Q346 146 344 152 M347 149.6L353 149 M354 147.6L356 152 M348 142.4H358 M346 155H357" stroke-width="2"/>
<path d="M329 144Q333 147 337.6 147.4 M329 152.6Q334 151 337.6 149.6" stroke-width="1.7"/>
<path d="M350.2 117.2V128.4 M346 126H354.6 M347 123.8H353.4 M348.4 121.6H352" stroke-width="1.7"/>
<path d="M350.2 166.2V174 M346 168.6H354.6 M347.2 170.8H353.2 M348.6 172.8H351.8" stroke-width="1.7"/>
<rect x="308" y="212" width="8" height="17" stroke-width="1.6"/>
<line x1="308" y1="216.6" x2="316" y2="216.6" stroke-width="1.1"/>
<rect x="316" y="222" width="6.5" height="7" stroke-width="1.3"/>
<path d="M316.8 224V229 M316.8 229L317.8 244" stroke-width="1.7"/>
<circle cx="318.2" cy="246.4" r="1.8" stroke-width="1.5" fill="#26211e"/>
<line x1="350.6" y1="174" x2="353.6" y2="205" stroke-width="1.7"/>
<path d="M349.4 205H359.6Q360.6 205 360.7 206.5L361.5 228.5Q361.5 230.3 360 230.3H348Q346.8 230.3 347 228.5L348.4 206.5Q348.5 205 349.4 205Z" stroke-width="2"/>
<line x1="354.2" y1="208" x2="354.2" y2="228" stroke-width="1.1"/>
<!-- wheel -->
<circle cx="539.1" cy="148.3" r="58.7" stroke-width="2.1"/>
<circle cx="538.9" cy="148.3" r="55.3" stroke-width="1.5"/>
<circle cx="538.5" cy="148.3" r="20.2" stroke-width="1.7"/>
<circle cx="538.5" cy="148.3" r="17" stroke-width="1.3"/>
<circle cx="538.5" cy="148.3" r="8.6" stroke-width="1.5"/>
<circle cx="538.5" cy="148.3" r="6.2" stroke-width="2"/>
<circle cx="538.5" cy="148.3" r="23" stroke-width="0.9" stroke-dasharray="3 2" opacity="0.8"/>
<path d="M564.7 147.1Q564.7 143.5 568.2 142.6L585.9 138.3Q589.4 137.5 589.4 141.1L589.4 155.5Q589.4 159.1 585.9 158.3L568.2 154Q564.7 153.1 564.7 149.5Z" stroke-width="1.8"/>
<path d="M561.8 160.3Q563.6 157.2 567 158.2L584.5 163.4Q588 164.4 586.2 167.5L578.9 180Q577.1 183.1 574.5 180.6L561.4 168Q558.8 165.5 560.6 162.4Z" stroke-width="1.8"/>
<path d="M552.6 170.4Q555.7 168.6 558.2 171.2L570.8 184.3Q573.3 186.9 570.2 188.7L557.7 196Q554.6 197.8 553.6 194.3L548.4 176.8Q547.4 173.4 550.5 171.6Z" stroke-width="1.8"/>
<path d="M539.7 174.5Q543.3 174.5 544.2 178L548.5 195.7Q549.3 199.2 545.7 199.2L531.3 199.2Q527.7 199.2 528.5 195.7L532.8 178Q533.7 174.5 537.3 174.5Z" stroke-width="1.8"/>
<path d="M526.5 171.6Q529.6 173.4 528.6 176.8L523.4 194.3Q522.4 197.8 519.3 196L506.8 188.7Q503.7 186.9 506.2 184.3L518.8 171.2Q521.3 168.6 524.4 170.4Z" stroke-width="1.8"/>
<path d="M516.4 162.4Q518.2 165.5 515.6 168L502.5 180.6Q499.9 183.1 498.1 180L490.8 167.5Q489 164.4 492.5 163.4L510 158.2Q513.4 157.2 515.2 160.3Z" stroke-width="1.8"/>
<path d="M512.3 149.5Q512.3 153.1 508.8 154L491.1 158.3Q487.6 159.1 487.6 155.5L487.6 141.1Q487.6 137.5 491.1 138.3L508.8 142.6Q512.3 143.5 512.3 147.1Z" stroke-width="1.8"/>
<path d="M515.2 136.3Q513.4 139.4 510 138.4L492.5 133.2Q489 132.2 490.8 129.1L498.1 116.6Q499.9 113.5 502.5 116L515.6 128.6Q518.2 131.1 516.4 134.2Z" stroke-width="1.8"/>
<path d="M524.4 126.2Q521.3 128 518.8 125.4L506.2 112.3Q503.7 109.7 506.8 107.9L519.3 100.6Q522.4 98.8 523.4 102.3L528.6 119.8Q529.6 123.2 526.5 125Z" stroke-width="1.8"/>
<path d="M537.3 122.1Q533.7 122.1 532.8 118.6L528.5 100.9Q527.7 97.4 531.3 97.4L545.7 97.4Q549.3 97.4 548.5 100.9L544.2 118.6Q543.3 122.1 539.7 122.1Z" stroke-width="1.8"/>
<path d="M550.5 125Q547.4 123.2 548.4 119.8L553.6 102.3Q554.6 98.8 557.7 100.6L570.2 107.9Q573.3 109.7 570.8 112.3L558.2 125.4Q555.7 128 552.6 126.2Z" stroke-width="1.8"/>
<path d="M560.6 134.2Q558.8 131.1 561.4 128.6L574.5 116Q577.1 113.5 578.9 116.6L586.2 129.1Q588 132.2 584.5 133.2L567 138.4Q563.6 139.4 561.8 136.3Z" stroke-width="1.8"/>
<line x1="554.1" y1="132.7" x2="578.1" y2="108.7" stroke-width="0.9" opacity="0.8"/>
<line x1="522.9" y1="132.7" x2="498.9" y2="108.7" stroke-width="0.9" opacity="0.8"/>
<line x1="522.9" y1="163.9" x2="498.9" y2="187.9" stroke-width="0.9" opacity="0.8"/>
<line x1="554.1" y1="163.9" x2="578.1" y2="187.9" stroke-width="0.9" opacity="0.8"/>
<line x1="433" y1="149" x2="463" y2="149" stroke-width="1.1" stroke-dasharray="16 2 2 2"/>
<line x1="476" y1="149" x2="602" y2="149" stroke-width="1" stroke-dasharray="9 2 1.5 2"/>
<line x1="538.7" y1="64" x2="538.7" y2="132" stroke-width="1" stroke-dasharray="10 2 2 2"/>
<line x1="538.7" y1="132" x2="538.7" y2="229" stroke-width="1" stroke-dasharray="6 2 1.5 2"/>
<path d="M464.1 143.1A74.6 74.6 0 0 1 489.6 92" stroke-width="1.1" stroke-dasharray="14 3"/>
<path d="M492.6 89.5A74.6 74.6 0 0 1 508.2 80.1" stroke-width="1.1"/>
<path d="M513 78.2A74.6 74.6 0 0 1 537.2 73.7" stroke-width="1.1" stroke-dasharray="12 2.5"/>
<path d="M550.5 73.8A75.2 75.2 0 0 1 582.1 86" stroke-width="1.1" stroke-dasharray="14 3"/>
<path d="M590.3 92.4A75.2 75.2 0 0 1 615.2 147" stroke-width="1.1" stroke-dasharray="16 3"/>
<path d="M586.1 108.3A62.2 62.2 0 0 1 595.3 173.6" stroke-width="1.7" stroke-dasharray="5 1.2"/>
<g transform="translate(545.5 82.2) rotate(6)">
<ellipse cx="0" cy="0" rx="3.4" ry="4" stroke-width="2"/>
<circle cx="0" cy="0" r="1.3" stroke-width="1.2" fill="#26211e"/>
<rect x="-1.9" y="-11" width="6.8" height="6" rx="0.8" stroke-width="1.5" fill="#26211e"/>
<path d="M-4 -4.6H4 M-2.5 -4.6V-2.8 M2.5 -4.6V-2.8" stroke-width="2"/>
<path d="M-2 4L-6 7.5" stroke-width="2"/>
</g>
<circle cx="532.8" cy="83" r="4.4" stroke-width="1.8"/>
<circle cx="532.8" cy="83" r="1.5" stroke-width="1.2" fill="#26211e"/>
<circle cx="519.6" cy="84.5" r="3.6" stroke-width="1.8"/>
<circle cx="519.6" cy="84.5" r="1.8" stroke-width="1.2" fill="#26211e"/>
<g transform="translate(507.9 88.2) rotate(-27)">
<ellipse cx="0" cy="0" rx="3.4" ry="4" stroke-width="2"/>
<circle cx="0" cy="0" r="1.3" stroke-width="1.2" fill="#26211e"/>
<ellipse cx="5.6" cy="1.4" rx="2.6" ry="3.4" stroke-width="1.8"/>
<circle cx="5.6" cy="1.4" r="1" stroke-width="1.2" fill="#26211e"/>
<rect x="-4.9" y="-11" width="6.8" height="6" rx="0.8" stroke-width="1.5" fill="#26211e"/>
<path d="M-4 -4.6H4 M-2.5 -4.6V-2.8 M2.5 -4.6V-2.8" stroke-width="2"/>
<path d="M2 4L6 7.5" stroke-width="2"/>
</g>
<circle cx="490.1" cy="104" r="4.8" stroke-width="1.8"/>
<circle cx="490.1" cy="104" r="2" stroke-width="1.2" fill="#26211e"/>
<g transform="translate(480.9 115.1) rotate(-60)">
<ellipse cx="0" cy="0" rx="3.4" ry="4" stroke-width="2"/>
<circle cx="0" cy="0" r="1.3" stroke-width="1.2" fill="#26211e"/>
<ellipse cx="5.6" cy="1.4" rx="2.6" ry="3.4" stroke-width="1.8"/>
<circle cx="5.6" cy="1.4" r="1" stroke-width="1.2" fill="#26211e"/>
<rect x="-4.9" y="-11" width="6.8" height="6" rx="0.8" stroke-width="1.5" fill="#26211e"/>
<path d="M-4 -4.6H4 M-2.5 -4.6V-2.8 M2.5 -4.6V-2.8" stroke-width="2"/>
<path d="M2 4L6 7.5" stroke-width="2"/>
</g>
<circle cx="473.5" cy="136.8" r="4.4" stroke-width="1.8"/>
<circle cx="473.5" cy="136.8" r="2" stroke-width="1.2" fill="#26211e"/>
<rect x="462.6" y="145" width="7.4" height="8.4" stroke-width="1.7" fill="#26211e"/>
<ellipse cx="473.6" cy="150.4" rx="2.6" ry="3" stroke-width="1.8"/>
<path d="M470 146H476V154.6H470 M466 153.4V156H474" stroke-width="1.6"/>
<circle cx="567.7" cy="88.5" r="4.4" stroke-width="1.8"/>
<circle cx="567.7" cy="88.5" r="1.6" stroke-width="1.2" fill="#26211e"/>
<g transform="translate(579.4 94) rotate(37)">
<ellipse cx="0" cy="0" rx="3.4" ry="4" stroke-width="2"/>
<circle cx="0" cy="0" r="1.3" stroke-width="1.2" fill="#26211e"/>
<ellipse cx="-5.6" cy="1.4" rx="2.6" ry="3.4" stroke-width="1.8"/>
<circle cx="-5.6" cy="1.4" r="1" stroke-width="1.2" fill="#26211e"/>
<rect x="-1.9" y="-11" width="6.8" height="6" rx="0.8" stroke-width="1.5" fill="#26211e"/>
<path d="M-4 -4.6H4 M-2.5 -4.6V-2.8 M2.5 -4.6V-2.8" stroke-width="2"/>
<path d="M-2 4L-6 7.5" stroke-width="2"/>
</g>
<circle cx="595.3" cy="112.1" r="4.8" stroke-width="1.8"/>
<circle cx="595.3" cy="112.1" r="2.2" stroke-width="1.2" fill="#26211e"/>
<g transform="translate(604.8 121.5) rotate(68)">
<ellipse cx="0" cy="0" rx="3.4" ry="4" stroke-width="2"/>
<circle cx="0" cy="0" r="1.3" stroke-width="1.2" fill="#26211e"/>
<ellipse cx="-5.6" cy="1.4" rx="2.6" ry="3.4" stroke-width="1.8"/>
<circle cx="-5.6" cy="1.4" r="1" stroke-width="1.2" fill="#26211e"/>
<rect x="-1.9" y="-11" width="6.8" height="6" rx="0.8" stroke-width="1.5" fill="#26211e"/>
<path d="M-4 -4.6H4 M-2.5 -4.6V-2.8 M2.5 -4.6V-2.8" stroke-width="2"/>
<path d="M-2 4L-6 7.5" stroke-width="2"/>
</g>
<circle cx="587.6" cy="193.4" r="3.5" stroke-width="1.8"/>
<polygon points="585.6,193.4 587.6,191.2 589.6,193.4 587.6,195.6" stroke-width="1.2" fill="#26211e"/>
<path d="M585 196L581 202" stroke-width="1.6"/>
<!-- pipes on wheel face -->
<path d="M489.5 177.4A25.5 23.8 0 0 1 515 153.6H526.4V164H515.4A11.6 13.4 0 0 0 503.8 177.4Z" stroke-width="1.8" fill="#fefefc"/>
<path d="M496.6 177.4A18.6 18.6 0 0 1 515.2 158.8H522" stroke-width="0.9" stroke-dasharray="4 2"/>
<rect x="488.6" y="177.2" width="16.4" height="22.8" stroke-width="1.6" fill="#fefefc"/>
<line x1="488.6" y1="182" x2="505" y2="182" stroke-width="1.5"/>
<line x1="488.6" y1="184.2" x2="505" y2="184.2" stroke-width="1.5"/>
<line x1="488.6" y1="189.4" x2="505" y2="189.4" stroke-width="1.5"/>
<line x1="488.6" y1="191.4" x2="505" y2="191.4" stroke-width="1.5"/>
<line x1="488.6" y1="196.4" x2="505" y2="196.4" stroke-width="1.5"/>
<path d="M487.4 179.6H489 M505 179.6H506.6 M487.4 186.8H489 M505 186.8H506.6 M487.4 194H489 M505 194H506.6" stroke-width="2"/>
<line x1="514.8" y1="153.6" x2="514.8" y2="164" stroke-width="1.3"/>
<line x1="519" y1="153.6" x2="519" y2="164" stroke-width="1.3"/>
<line x1="523.2" y1="152.6" x2="523.2" y2="165" stroke-width="1.7"/>
<polygon points="523.4,150.4 529.6,153 524,156" stroke-width="1.2" fill="#26211e"/>
<path d="M553 132.4H566Q583.2 133 584.4 150V152.4H574.6V150.6Q574.4 142.6 566 141.6H556Z" stroke-width="1.8" fill="#fefefc"/>
<path d="M556 137H566Q579 137.6 579.6 150" stroke-width="0.9" stroke-dasharray="4 2"/>
<line x1="557.4" y1="131.4" x2="557.4" y2="142.4" stroke-width="1.6"/>
<line x1="561.4" y1="132.4" x2="561.4" y2="141.6" stroke-width="1.2"/>
<rect x="551.6" y="129.6" width="5.8" height="4.4" stroke-width="1.5" fill="#fefefc"/>
<path d="M566.6 144.6Q571.4 143.6 573.4 147.6Q575.4 152 572 152.6Q567.6 152.6 566 148.6Q565.6 145.4 566.6 144.6Z" stroke-width="1.7" fill="#fefefc"/>
<rect x="572.6" y="150.4" width="13.8" height="24.6" stroke-width="0.1" fill="#fefefc"/>
<rect x="574" y="152.4" width="11.4" height="4.4" stroke-width="1.7"/>
<rect x="575.6" y="156.8" width="8.4" height="4.2" stroke-width="1.5"/>
<line x1="570" y1="163.2" x2="589.6" y2="163.2" stroke-width="2.4"/>
<rect x="574.6" y="164.4" width="10.8" height="5.6" stroke-width="1.7"/>
<line x1="574.6" y1="167.2" x2="585.4" y2="167.2" stroke-width="1.2"/>
<rect x="576.4" y="170" width="7.2" height="4.6" stroke-width="1.5"/>
<line x1="567.6" y1="172" x2="576.4" y2="172" stroke-width="1.7"/>
<line x1="579.2" y1="174.6" x2="579.2" y2="203" stroke-width="1.3"/>
<line x1="579.2" y1="150" x2="579.2" y2="176" stroke-width="0.9" stroke-dasharray="5 2"/>
<rect x="526.6" y="164" width="3" height="44" stroke-width="0.1" fill="#fefefc"/>
<line x1="526.6" y1="164" x2="526.6" y2="208.6" stroke-width="1.7"/>
<line x1="529.4" y1="165" x2="529.4" y2="206" stroke-width="1.2"/>
<circle cx="527.8" cy="210" r="1.7" stroke-width="1.5" fill="#26211e"/>
<polygon points="525.4,185 528,191.6 530.4,185" stroke-width="1.2" fill="#26211e"/>
<line x1="522" y1="164" x2="536.4" y2="164" stroke-width="1.6"/>
<rect x="536.2" y="164" width="12.4" height="39.4" stroke-width="0.1" fill="#fefefc"/>
<circle cx="542.4" cy="160.6" r="2.1" stroke-width="1.6"/>
<circle cx="542.4" cy="160.6" r="0.8" stroke-width="1.2" fill="#26211e"/>
<path d="M538.6 156.6V164 M546.2 158.6V164 M538.6 164H548.6" stroke-width="1.6"/>
<rect x="539" y="164" width="8.6" height="6.6" stroke-width="1.7"/>
<rect x="540.4" y="170.6" width="6" height="4.8" stroke-width="1.3"/>
<rect x="537.6" y="175.4" width="11" height="6.2" stroke-width="1.8"/>
<line x1="537.6" y1="178.6" x2="548.6" y2="178.6" stroke-width="1.2"/>
<rect x="540.4" y="181.6" width="6" height="4.4" stroke-width="1.3"/>
<rect x="537.2" y="186" width="12.2" height="6.4" stroke-width="1.8"/>
<line x1="537.2" y1="189.2" x2="549.4" y2="189.2" stroke-width="1.2"/>
<rect x="539.6" y="192.4" width="7.8" height="7.6" stroke-width="1.5"/>
<line x1="535.6" y1="196.4" x2="551" y2="196.4" stroke-width="1.7"/>
<line x1="543.4" y1="164" x2="543.4" y2="204" stroke-width="1" stroke-dasharray="5 2"/>
<line x1="535.8" y1="176" x2="535.8" y2="203.4" stroke-width="1.5"/>
<line x1="550.8" y1="181" x2="550.8" y2="203.4" stroke-width="1.3"/>
<path d="M539.6 200V203.4H547.4V200" stroke-width="1.3"/>
<path d="M578 121L581.2 124.6L584.4 120.6 M581.2 124.6V128.4" stroke-width="1.8"/>
<circle cx="581.2" cy="124.6" r="1" stroke-width="1.2" fill="#26211e"/>
<!-- hoppers / tank / base -->
<line x1="454.5" y1="159.6" x2="472.5" y2="159.6" stroke-width="1.6"/>
<line x1="455.4" y1="159.6" x2="455.4" y2="187" stroke-width="2.7"/>
<line x1="458" y1="162" x2="458" y2="185" stroke-width="2" stroke-dasharray="2 2.6"/>
<path d="M457.6 178Q459 192 471.4 205" stroke-width="1.2" stroke-dasharray="4 2.2"/>
<rect x="450.2" y="186" width="4.4" height="13.4" stroke-width="1.5" fill="#26211e"/>
<line x1="454" y1="188" x2="471.6" y2="206.2" stroke-width="1.6"/>
<line x1="450.6" y1="199" x2="450.6" y2="229" stroke-width="1.2"/>
<path d="M473.4 198Q486 211 501 214.6T537 224.6" stroke-width="1.2" stroke-dasharray="5 2.4"/>
<path d="M476 193Q488 206.6 503 210.4" stroke-width="1.1" stroke-dasharray="5 2.4"/>
<line x1="602" y1="148.2" x2="622" y2="148.2" stroke-width="1.3"/>
<polyline points="622,148.2 634.8,171 634.8,184.6" stroke-width="1.5"/>
<polyline points="601,163.6 605,166 616.4,184.6" stroke-width="1.5"/>
<line x1="616" y1="184.6" x2="635" y2="184.6" stroke-width="2"/>
<line x1="626.2" y1="164" x2="626.2" y2="184" stroke-width="1" stroke-dasharray="6 2.4"/>
<line x1="602.4" y1="150" x2="602.4" y2="166" stroke-width="1.2"/>
<line x1="605.6" y1="166" x2="605.6" y2="196" stroke-width="2" stroke-dasharray="2 2"/>
<path d="M594.7 178.2A63.6 63.6 0 0 1 570.3 203.4" stroke-width="1.3"/>
<path d="M604.3 187.9A76.8 76.8 0 0 1 543.9 224.9" stroke-width="1.3" stroke-dasharray="3.4 1.8"/>
<path d="M600.2 188.4A73.6 73.6 0 0 1 546.2 221.5" stroke-width="1.2" stroke-dasharray="3.4 1.8"/>
<line x1="486" y1="203.4" x2="527" y2="203.4" stroke-width="1.3"/>
<line x1="551" y1="203.4" x2="580" y2="203.4" stroke-width="1.3"/>
<line x1="508.4" y1="203.4" x2="508.4" y2="229" stroke-width="1.3"/>
<line x1="535.2" y1="203.4" x2="535.2" y2="229" stroke-width="1.3"/>
<line x1="541.6" y1="203.4" x2="541.6" y2="229" stroke-width="1.3"/>
<line x1="555.4" y1="203.4" x2="555.4" y2="229" stroke-width="1.3"/>
<line x1="572" y1="203.4" x2="572" y2="229" stroke-width="1.3"/>
<line x1="497" y1="199" x2="497" y2="205" stroke-width="1.2"/>
<line x1="497" y1="224.4" x2="607" y2="224.4" stroke-width="1.1"/>
<line x1="472.5" y1="232.4" x2="607" y2="232.4" stroke-width="1.2"/>
<line x1="580" y1="203" x2="580" y2="229" stroke-width="1.2"/>
<line x1="570.6" y1="215" x2="570.6" y2="229" stroke-width="1"/>
<!-- plan: motor -->
<path d="M86.6 483.4H111.4 M86.6 511H111.4" stroke-width="2.1"/>
<path d="M86.6 483.4Q79.5 484.5 79.3 491.5V503Q79.5 510 86.6 511" stroke-width="2.1"/>
<path d="M111.4 483.4Q118.6 484.5 119 491.5V503Q118.6 510 111.4 511" stroke-width="2.1"/>
<line x1="86.6" y1="483.4" x2="86.6" y2="511" stroke-width="1.8"/>
<line x1="111.4" y1="483.4" x2="111.4" y2="511" stroke-width="1.8"/>
<line x1="86.6" y1="487.5" x2="111.4" y2="487.5" stroke-width="1.3"/>
<line x1="86.6" y1="491.5" x2="111.4" y2="491.5" stroke-width="1.3"/>
<line x1="86.6" y1="495.5" x2="111.4" y2="495.5" stroke-width="1.3"/>
<line x1="86.6" y1="499.5" x2="111.4" y2="499.5" stroke-width="1.3"/>
<line x1="86.6" y1="503.5" x2="111.4" y2="503.5" stroke-width="1.3"/>
<line x1="86.6" y1="507.5" x2="111.4" y2="507.5" stroke-width="1.3"/>
<rect x="96" y="494.5" width="6" height="5.5" stroke-width="1.7" fill="#26211e"/>
<path d="M119 494H122.5 M119 500H122.5" stroke-width="1.7"/>
<ellipse cx="126.5" cy="496.5" rx="3.6" ry="5.2" stroke-width="2.2" fill="#26211e"/>
<path d="M122.5 492.5V501 M130 494.5H132 M130 499H132" stroke-width="1.7"/>
<!-- plan: bearing boxes and springs -->
<polyline points="163.4,465 132,465 132,498 163.4,498" stroke-width="2"/>
<polygon points="140.2,482.2 143.2,478.8 146.2,482.2 143.2,485.6" stroke-width="1.4" fill="#26211e"/>
<line x1="143.6" y1="429" x2="143.6" y2="438" stroke-width="1.3"/>
<line x1="143.8" y1="438" x2="143.8" y2="498" stroke-width="1.1" stroke-dasharray="9 2 2 2"/>
<line x1="136" y1="438.5" x2="136" y2="465" stroke-width="1.5"/>
<line x1="152" y1="438.5" x2="152" y2="465" stroke-width="1.5"/>
<line x1="136" y1="438.5" x2="152" y2="438.5" stroke-width="1.8"/>
<line x1="136" y1="443.8" x2="152" y2="441.4" stroke-width="1.8"/>
<line x1="136" y1="449.1" x2="152" y2="446.7" stroke-width="1.8"/>
<line x1="136" y1="454.4" x2="152" y2="452" stroke-width="1.8"/>
<line x1="136" y1="459.7" x2="152" y2="457.3" stroke-width="1.8"/>
<line x1="136" y1="465" x2="152" y2="462.6" stroke-width="1.8"/>
<line x1="131.5" y1="451.5" x2="156.5" y2="451.5" stroke-width="2.1"/>
<line x1="135" y1="438.5" x2="153" y2="438.5" stroke-width="2"/>
<line x1="137.1" y1="498" x2="137.1" y2="521.5" stroke-width="1.5"/>
<line x1="149.9" y1="498" x2="149.9" y2="521.5" stroke-width="1.5"/>
<line x1="137.1" y1="498" x2="149.9" y2="498" stroke-width="1.8"/>
<line x1="137.1" y1="503.9" x2="149.9" y2="501.2" stroke-width="1.8"/>
<line x1="137.1" y1="509.8" x2="149.9" y2="507.1" stroke-width="1.8"/>
<line x1="137.1" y1="515.6" x2="149.9" y2="513" stroke-width="1.8"/>
<line x1="137.1" y1="521.5" x2="149.9" y2="518.9" stroke-width="1.8"/>
<line x1="132.6" y1="509.5" x2="154.4" y2="509.5" stroke-width="2.1"/>
<line x1="136" y1="521.5" x2="151" y2="521.5" stroke-width="2"/>
<path d="M141 523.6V533Q141 539.6 147.6 539.6H155Q161 539.6 161 533V498" stroke-width="2"/>
<line x1="141" y1="523.6" x2="150" y2="523.6" stroke-width="1.5"/>
<line x1="152" y1="492" x2="152" y2="550" stroke-width="1.1" stroke-dasharray="7 2 2 2"/>
<line x1="137" y1="498" x2="137" y2="501" stroke-width="1.4"/>
<circle cx="166" cy="528" r="2.8" stroke-width="2"/>
<circle cx="166" cy="528" r="1.1" stroke-width="1.4" fill="#26211e"/>
<line x1="161" y1="528" x2="163.2" y2="528" stroke-width="1.7"/>
<line x1="168.8" y1="528" x2="171" y2="528" stroke-width="1.7"/>
<polyline points="335,465 367,465 367,500.4 331,500.4" stroke-width="2"/>
<circle cx="355.8" cy="482.2" r="2.7" stroke-width="1.4" fill="#26211e"/>
<line x1="355.8" y1="427" x2="355.8" y2="439" stroke-width="1.3"/>
<line x1="355.8" y1="465" x2="355.8" y2="531" stroke-width="1.1" stroke-dasharray="7 2 2 2"/>
<line x1="347.4" y1="439.4" x2="347.4" y2="465" stroke-width="1.5"/>
<line x1="363.4" y1="439.4" x2="363.4" y2="465" stroke-width="1.5"/>
<line x1="347.4" y1="439.4" x2="363.4" y2="439.4" stroke-width="1.8"/>
<line x1="347.4" y1="444.5" x2="363.4" y2="442.2" stroke-width="1.8"/>
<line x1="347.4" y1="449.6" x2="363.4" y2="447.3" stroke-width="1.8"/>
<line x1="347.4" y1="454.8" x2="363.4" y2="452.5" stroke-width="1.8"/>
<line x1="347.4" y1="459.9" x2="363.4" y2="457.6" stroke-width="1.8"/>
<line x1="347.4" y1="465" x2="363.4" y2="462.7" stroke-width="1.8"/>
<line x1="342.9" y1="451.5" x2="367.9" y2="451.5" stroke-width="2.1"/>
<line x1="346" y1="439.4" x2="365" y2="439.4" stroke-width="2"/>
<line x1="350" y1="500.4" x2="350" y2="522.6" stroke-width="1.5"/>
<line x1="361.2" y1="500.4" x2="361.2" y2="522.6" stroke-width="1.5"/>
<line x1="350" y1="500.4" x2="361.2" y2="500.4" stroke-width="1.8"/>
<line x1="350" y1="505.9" x2="361.2" y2="503.5" stroke-width="1.8"/>
<line x1="350" y1="511.5" x2="361.2" y2="509" stroke-width="1.8"/>
<line x1="350" y1="517" x2="361.2" y2="514.6" stroke-width="1.8"/>
<line x1="350" y1="522.6" x2="361.2" y2="520.1" stroke-width="1.8"/>
<line x1="345.5" y1="511.4" x2="365.7" y2="511.4" stroke-width="2.1"/>
<line x1="347" y1="522.6" x2="365" y2="522.6" stroke-width="2.1"/>
<line x1="128" y1="482.3" x2="200" y2="482.3" stroke-width="1.1" stroke-dasharray="12 2 2 2"/>
<line x1="200" y1="482.3" x2="301" y2="482.3" stroke-width="1.1" stroke-dasharray="14 2.5 2 2.5"/>
<line x1="301" y1="482.3" x2="378" y2="482.3" stroke-width="1.3" stroke-dasharray="14 2 2 2"/>
<!-- plan: frame -->
<polyline points="181,503 181,397 318,397 318,416" stroke-width="2.1"/>
<line x1="187" y1="400" x2="312" y2="400" stroke-width="2.2"/>
<line x1="187" y1="402.4" x2="312" y2="402.4" stroke-width="1.4"/>
<line x1="199" y1="395.5" x2="199" y2="404" stroke-width="1.8"/>
<line x1="229" y1="395.5" x2="229" y2="404" stroke-width="1.8"/>
<line x1="271" y1="395.5" x2="271" y2="404" stroke-width="1.8"/>
<line x1="301" y1="395.5" x2="301" y2="404" stroke-width="1.8"/>
<path d="M238 394.4H262 M243 392.6L248 395.6 M258 392.6L253 395.6" stroke-width="1.5"/>
<line x1="187" y1="397" x2="187" y2="503" stroke-width="2"/>
<line x1="312" y1="400" x2="312" y2="504" stroke-width="2"/>
<line x1="314.8" y1="452" x2="314.8" y2="501" stroke-width="1.4"/>
<polyline points="181,407 172,407 172,503" stroke-width="2"/>
<path d="M167.8 513V452Q167.8 449.6 170 449.6H172" stroke-width="1.8"/>
<path d="M163.4 508V462Q163.4 459.8 165.4 459.8H167.8" stroke-width="1.8"/>
<rect x="168" y="449.6" width="4" height="2.8" stroke-width="1.4" fill="#26211e"/>
<rect x="163.8" y="459.8" width="3.8" height="2.2" stroke-width="1.4" fill="#26211e"/>
<line x1="163.4" y1="508" x2="167.8" y2="508" stroke-width="1.5"/>
<path d="M167.8 513H170Q172 513 172 511" stroke-width="1.5"/>
<path d="M318 416H323.5Q325 416 325 417.5V424H318" stroke-width="1.8"/>
<line x1="318" y1="416" x2="318" y2="452" stroke-width="1.7"/>
<line x1="322.4" y1="424" x2="323.4" y2="452" stroke-width="2.5"/>
<polyline points="314.8,452 326,452" stroke-width="1.8"/>
<rect x="323.6" y="449.6" width="7.4" height="8.4" stroke-width="1.8"/>
<rect x="325" y="452" width="4" height="6" stroke-width="1.4" fill="#26211e"/>
<line x1="327" y1="458" x2="327" y2="500" stroke-width="1.7"/>
<line x1="331" y1="452" x2="331" y2="500" stroke-width="1.7"/>
<polyline points="331,460 335,460 335,500" stroke-width="1.7"/>
<polyline points="200,500 200,423 301,423 301,520" stroke-width="2"/>
<line x1="250.6" y1="385" x2="250.6" y2="585" stroke-width="1.3" stroke-dasharray="22 2.5 2.5 2.5"/>
<!-- plan: lower cut-away with rollers -->
<rect x="171" y="503" width="9" height="40" stroke-width="1.7"/>
<line x1="171" y1="504.5" x2="180" y2="504.5" stroke-width="1.3"/>
<line x1="171" y1="506.5" x2="180" y2="506.5" stroke-width="1.3"/>
<line x1="171" y1="508.5" x2="180" y2="508.5" stroke-width="1.3"/>
<line x1="171" y1="510.5" x2="180" y2="510.5" stroke-width="1.3"/>
<line x1="171" y1="512.5" x2="180" y2="512.5" stroke-width="1.3"/>
<line x1="171" y1="514.5" x2="180" y2="514.5" stroke-width="1.3"/>
<line x1="171" y1="516.5" x2="180" y2="516.5" stroke-width="1.3"/>
<line x1="171" y1="518.5" x2="180" y2="518.5" stroke-width="1.3"/>
<line x1="171" y1="520.5" x2="180" y2="520.5" stroke-width="1.3"/>
<line x1="171" y1="522.5" x2="180" y2="522.5" stroke-width="1.3"/>
<line x1="171" y1="524.5" x2="180" y2="524.5" stroke-width="1.3"/>
<line x1="171" y1="526.5" x2="180" y2="526.5" stroke-width="1.3"/>
<line x1="171" y1="528.5" x2="180" y2="528.5" stroke-width="1.3"/>
<line x1="171" y1="530.5" x2="180" y2="530.5" stroke-width="1.3"/>
<line x1="171" y1="532.5" x2="180" y2="532.5" stroke-width="1.3"/>
<line x1="171" y1="534.5" x2="180" y2="534.5" stroke-width="1.3"/>
<line x1="171" y1="536.5" x2="180" y2="536.5" stroke-width="1.3"/>
<line x1="171" y1="538.5" x2="180" y2="538.5" stroke-width="1.3"/>
<line x1="171" y1="540.5" x2="180" y2="540.5" stroke-width="1.3"/>
<line x1="171" y1="542.5" x2="180" y2="542.5" stroke-width="1.3"/>
<path d="M173 503.4Q181 500.6 190 500.4H232Q240 500.6 246 504Q255 508.6 268 510Q279 512 286 517Q293 522.6 300 523Q307 522.6 309 514Q310.4 504 318 500.4" stroke-width="1.8"/>
<rect x="183" y="503" width="7.4" height="6" rx="2.4" stroke-width="1.8"/>
<rect x="184" y="512" width="6" height="9.4" rx="2.4" stroke-width="1.8"/>
<rect x="183" y="527" width="7.4" height="5.6" rx="2.4" stroke-width="1.8"/>
<rect x="184" y="536" width="6.4" height="10.4" rx="2.6" stroke-width="1.8"/>
<circle cx="186.6" cy="523.4" r="1.6" stroke-width="1.5"/>
<circle cx="187" cy="543.6" r="1.8" stroke-width="1.7" fill="#26211e"/>
<path d="M184.6 546L187.4 550 M187 546.4V556" stroke-width="1.7"/>
<line x1="190.4" y1="504.2" x2="246" y2="504.2" stroke-width="2.5"/>
<line x1="190.4" y1="507" x2="258" y2="507" stroke-width="1.4"/>
<line x1="190.4" y1="514.6" x2="201" y2="514.6" stroke-width="1.3"/>
<line x1="190.4" y1="518.6" x2="201" y2="518.6" stroke-width="1.3"/>
<line x1="190.4" y1="528" x2="309" y2="528" stroke-width="2.2"/>
<line x1="190.4" y1="531" x2="309" y2="531" stroke-width="1.7"/>
<line x1="190.4" y1="539" x2="201" y2="539" stroke-width="1.3"/>
<line x1="190.4" y1="543" x2="201" y2="543" stroke-width="1.3"/>
<path d="M296 511H204Q201 511 201 514V519.4Q201 522.4 204 522.4H296" stroke-width="2"/>
<line x1="203" y1="513.2" x2="290" y2="513.2" stroke-width="1.3"/>
<line x1="203" y1="520.6" x2="296" y2="520.6" stroke-width="2.8" stroke-dasharray="7 1.4"/>
<path d="M309 535H204Q201 535 201 538V543.4Q201 546.4 204 546.4H309" stroke-width="2"/>
<line x1="203" y1="537.2" x2="309" y2="537.2" stroke-width="1.3"/>
<line x1="203" y1="544.6" x2="309" y2="544.6" stroke-width="2.5"/>
<rect x="309" y="528" width="9" height="6.4" rx="1.5" stroke-width="1.8"/>
<rect x="309.6" y="536.4" width="8.4" height="10" rx="2" stroke-width="1.8"/>
<line x1="315" y1="528" x2="315" y2="548" stroke-width="2.2"/>
<line x1="187" y1="548.4" x2="313" y2="548.4" stroke-width="1.7"/>
<line x1="187" y1="556" x2="312" y2="556" stroke-width="2.5"/>
<line x1="312" y1="548.4" x2="312" y2="556" stroke-width="1.7"/>
<rect x="313" y="501" width="18" height="13" stroke-width="2"/>
<path d="M316 503.6H328V508L324.6 511L322 506.4L319.4 511L316 508Z" stroke-width="1.7"/>
<polyline points="313,514 313,549 325,549 325,514" stroke-width="1.8"/>
<line x1="319" y1="514" x2="319" y2="549" stroke-width="1.3"/>
<line x1="313" y1="519" x2="319" y2="519" stroke-width="1.3"/>
<circle cx="316" cy="519.6" r="1" stroke-width="1.3"/>
<circle cx="322" cy="519.6" r="1" stroke-width="1.3"/>
<polyline points="192,556 192,576.4 307,578 307,556" stroke-width="2"/>
<line x1="196" y1="556" x2="196" y2="576.4" stroke-width="1.5"/>
<line x1="304.6" y1="556" x2="304.6" y2="578" stroke-width="1.4"/>
<line x1="196" y1="559.4" x2="305" y2="559.4" stroke-width="1.4"/>
<line x1="196" y1="574.2" x2="305" y2="575.6" stroke-width="2.8"/>
<line x1="188" y1="567" x2="318" y2="567" stroke-width="1.3" stroke-dasharray="14 2.5 2.5 2.5"/>
</g>
</svg>
</body></html>
